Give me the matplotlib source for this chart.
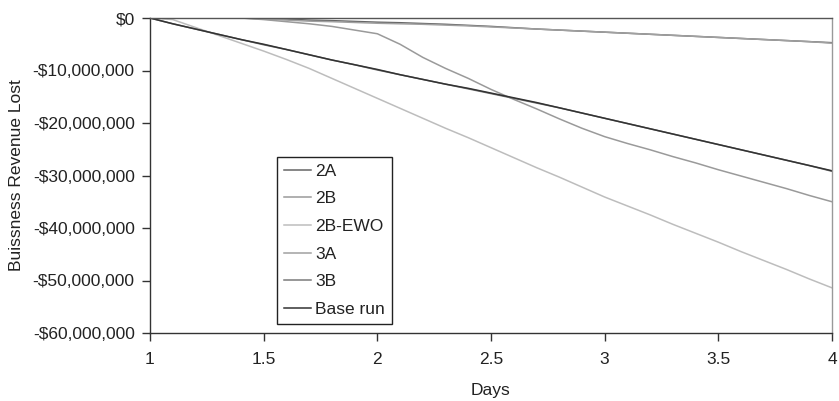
import matplotlib
matplotlib.use("Agg")
import matplotlib.pyplot as plt
from matplotlib.ticker import FuncFormatter, MultipleLocator

plt.rcParams['font.family'] = ['Liberation Sans', 'DejaVu Sans']

days = [1.0, 1.1, 1.2, 1.3, 1.4, 1.5, 1.6, 1.7, 1.8, 1.9, 2.0,
        2.1, 2.2, 2.3, 2.4, 2.5, 2.6, 2.7, 2.8, 2.9, 3.0,
        3.1, 3.2, 3.3, 3.4, 3.5, 3.6, 3.7, 3.8, 3.9, 4.0]

# revenue lost, millions of dollars
s_2a = [0, 0, 0, 0, 0, -0.1, -0.2, -0.4, -0.5, -0.65, -0.8,
        -0.9, -1.05, -1.2, -1.4, -1.6, -1.85, -2.1, -2.3, -2.5, -2.7,
        -2.9, -3.1, -3.3, -3.5, -3.7, -3.9, -4.1, -4.3, -4.5, -4.7]
s_2b = [0, 0, 0, 0, 0, -0.3, -0.7, -1.1, -1.6, -2.3, -3.0,
        -5.0, -7.5, -9.6, -11.5, -13.6, -15.5, -17.3, -19.2, -21.0, -22.6,
        -23.9, -25.1, -26.4, -27.6, -28.9, -30.1, -31.3, -32.5, -33.8, -35.0]
s_2b_ewo = [0, -0.3, -1.8, -3.3, -4.8, -6.3, -7.9, -9.6, -11.5, -13.4, -15.3,
            -17.2, -19.1, -21.0, -22.8, -24.7, -26.6, -28.5, -30.3, -32.2, -34.1,
            -35.8, -37.5, -39.3, -41.0, -42.7, -44.5, -46.2, -47.9, -49.7, -51.4]
s_3a = [0, 0, 0, 0, 0, -0.2, -0.4, -0.6, -0.7, -0.85, -1.0,
        -1.1, -1.2, -1.35, -1.5, -1.7, -1.9, -2.1, -2.3, -2.5, -2.7,
        -2.9, -3.1, -3.3, -3.5, -3.7, -3.9, -4.1, -4.3, -4.5, -4.8]
s_3b = [0, -1.1, -2.1, -3.1, -4.1, -5.1, -6.0, -7.0, -8.0, -8.9, -9.9,
        -10.8, -11.7, -12.6, -13.5, -14.4, -15.3, -16.2, -17.1, -18.1, -19.1,
        -20.1, -21.1, -22.1, -23.1, -24.1, -25.1, -26.1, -27.1, -28.1, -29.2]
s_base = [0, -1.1, -2.1, -3.1, -4.1, -5.0, -6.0, -7.0, -8.0, -8.9, -9.8,
          -10.8, -11.7, -12.6, -13.4, -14.3, -15.2, -16.1, -17.1, -18.1, -19.1,
          -20.1, -21.1, -22.1, -23.1, -24.1, -25.1, -26.1, -27.1, -28.1, -29.1]

series = [("2A", s_2a, "#666666"),
          ("2B", s_2b, "#9a9a9a"),
          ("2B-EWO", s_2b_ewo, "#bdbdbd"),
          ("3A", s_3a, "#a0a0a0"),
          ("3B", s_3b, "#7a7a7a"),
          ("Base run", s_base, "#333333")]

W, H = 839, 401
fig = plt.figure(figsize=(W / 100, H / 100), dpi=100)
ax = fig.add_axes([150 / W, 1 - 333 / H, (832 - 150) / W, (333 - 18) / H])

for name, vals, col in series:
    ax.plot(days, [v * 1e6 for v in vals], color=col, lw=1.1, label=name)

ax.set_xlim(1, 4)
ax.set_ylim(-60e6, 0)
ax.xaxis.set_major_locator(MultipleLocator(0.5))
ax.yaxis.set_major_locator(MultipleLocator(10e6))

def fmt_y(v, pos):
    if abs(v) < 1:
        return "$0"
    return "-${:,.0f}".format(abs(v))

def fmt_x(v, pos):
    return "{:g}".format(v)

ax.yaxis.set_major_formatter(FuncFormatter(fmt_y))
ax.xaxis.set_major_formatter(FuncFormatter(fmt_x))

fs = 12.5
ax.tick_params(axis='both', direction='out', length=6, width=1,
               color='#333333', labelsize=fs, labelcolor='#222222')
ax.tick_params(axis='y', pad=5)
ax.tick_params(axis='x', pad=8)

ax.spines['left'].set_color('#333333')
ax.spines['bottom'].set_color('#333333')
ax.spines['top'].set_color('#555555')
ax.spines['right'].set_color('#999999')
for sp in ax.spines.values():
    sp.set_linewidth(1)

ax.set_xlabel("Days", fontsize=fs, color='#222222', labelpad=11)
ax.set_ylabel("Buissness Revenue Lost", fontsize=fs, color='#222222', labelpad=6)

leg = ax.legend(loc='upper left', bbox_to_anchor=(277 / W, 1 - 157 / H),
                bbox_transform=fig.transFigure, borderaxespad=0,
                fancybox=False, framealpha=1, edgecolor='#222222',
                fontsize=fs, handlelength=1.55, handletextpad=0.28,
                labelspacing=0.72, borderpad=0.38)
leg.get_frame().set_linewidth(1)
for t in leg.get_texts():
    t.set_color('#222222')

fig.savefig("out.png", dpi=100)
